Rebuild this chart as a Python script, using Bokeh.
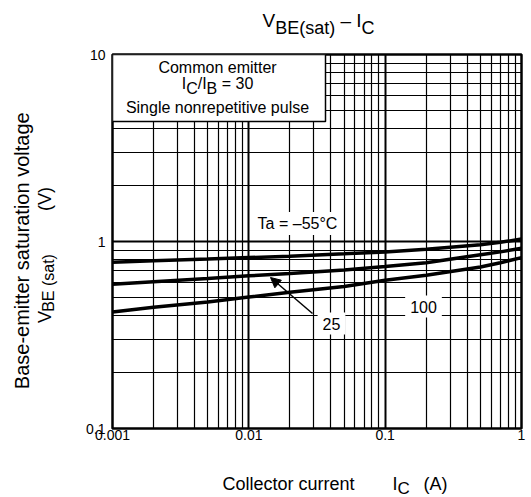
import math
from bokeh.plotting import figure
from bokeh.layouts import column, row
from bokeh.models import (Range1d, FixedTicker, CustomJSTickFormatter, Label,
                          BoxAnnotation, Arrow, NormalHead)
from bokeh.embed import file_html
from bokeh.resources import INLINE

# ---- data ----
ic = [0.001, 0.002, 0.005, 0.01, 0.02, 0.05, 0.1, 0.2, 0.5, 0.7, 1.0]
vbe_m55 = [0.775, 0.79, 0.805, 0.82, 0.835, 0.86, 0.88, 0.91, 0.96, 0.99, 1.03]
vbe_25 = [0.59, 0.61, 0.635, 0.655, 0.675, 0.705, 0.735, 0.77, 0.85, 0.88, 0.92]
vbe_100 = [0.42, 0.445, 0.475, 0.505, 0.535, 0.575, 0.62, 0.66, 0.73, 0.77, 0.82]

x_ticks = [0.001, 0.01, 0.1, 1]
y_ticks = [0.1, 1, 10]
x_minor = [m * 10.0 ** k for k in (-3, -2, -1) for m in range(2, 10)]
y_minor = [m * 10.0 ** k for k in (-1, 0) for m in range(2, 10)]

FONT = "Liberation Sans"
BL = 5  # baseline correction (px)

# page geometry (pixels)
W, H = 531, 497
TOP_H = 44          # title strip height
LEFT_W = 60         # y-label strip width
BOT_H = 49          # x-label strip height
MAIN_H = H - TOP_H - BOT_H
FL, FR, FT, FB = 112, 521, 54, 428   # frame edges in page pixels


def dx(px):
    return 10 ** (-3 + (px - FL) * 3.0 / (FR - FL))


def dy(py):
    return 10 ** (1 - (py - FT) * 2.0 / (FB - FT))


p = figure(width=W - LEFT_W, height=MAIN_H, x_axis_type="log", y_axis_type="log",
           x_range=Range1d(0.001, 1), y_range=Range1d(0.1, 10),
           output_backend="svg", toolbar_location=None,
           min_border_left=FL - LEFT_W, min_border_right=W - FR,
           min_border_top=FT - TOP_H, min_border_bottom=TOP_H + MAIN_H - FB)
p.background_fill_color = "white"
p.border_fill_color = "white"
p.outline_line_color = "black"
p.outline_line_width = 2.5

for ax, t, mn, st in ((p.xaxis[0], x_ticks, x_minor, 1), (p.yaxis[0], y_ticks, y_minor, 7)):
    ax.ticker = FixedTicker(ticks=t, minor_ticks=mn)
    ax.formatter = CustomJSTickFormatter(code="return tick.toString();")
    ax.axis_line_color = None
    ax.major_tick_in = 0
    ax.major_tick_out = 0
    ax.minor_tick_in = 0
    ax.minor_tick_out = 0
    ax.major_label_text_font = FONT
    ax.major_label_text_font_size = "14px"
    ax.major_label_text_color = "black"
    ax.major_label_standoff = st

for g in (p.xgrid[0], p.ygrid[0]):
    g.grid_line_color = "black"
    g.grid_line_width = 2.0
    g.grid_line_alpha = 1.0
    g.minor_grid_line_color = "black"
    g.minor_grid_line_width = 1.2
    g.minor_grid_line_alpha = 1.0

for v in (vbe_m55, vbe_25, vbe_100):
    p.line(ic, v, line_width=3.5, line_color="black")

# condition box
p.add_layout(BoxAnnotation(left=0.001, right=dx(325), top=10, bottom=dy(121),
                           fill_color="white", fill_alpha=1.0,
                           line_color="black", line_width=1.5, line_alpha=1.0))


def aux(w, h):
    f = figure(width=w, height=h, x_range=Range1d(0, w), y_range=Range1d(h, 0),
               output_backend="svg", toolbar_location=None,
               x_axis_location=None, y_axis_location=None, min_border=0)
    f.outline_line_color = None
    f.background_fill_color = "white"
    f.border_fill_color = "white"
    for g in f.grid:
        g.visible = False
    return f


t_fig = aux(W, TOP_H)
l_fig = aux(LEFT_W, MAIN_H)
b_fig = aux(W, BOT_H)

AW = {' ': 278, '(': 333, ')': 333, '-': 333, '/': 278, '=': 584, '°': 400,
      '–': 556, '.': 278, 'A': 667, 'B': 667, 'C': 722, 'E': 667, 'I': 278,
      'S': 667, 'T': 611, 'V': 667, 'a': 556, 'b': 556, 'c': 500, 'e': 556,
      'g': 556, 'i': 222, 'l': 222, 'm': 833, 'n': 556, 'o': 556, 'p': 556,
      'r': 333, 's': 500, 't': 278, 'u': 556, 'v': 500}


def tw(s, size):
    return sum(AW.get(c, 556) for c in s) * size / 1000.0


def lab(fig, x, y, text, size, angle=0.0, align="left", bg=None, pad=0):
    kw = {}
    if bg is not None:
        kw = dict(background_fill_color=bg, background_fill_alpha=1.0, padding=pad)
    fig.add_layout(Label(x=x, y=y, text=text, text_font=FONT,
                         text_font_size=f"{size}px", text_color="black",
                         angle=angle, text_align=align, text_baseline="alphabetic", **kw))


# coordinate transforms (page pixels -> figure data)
MAIN = (p, dx, lambda py: dy(py - BL))
TOP = (t_fig, lambda px: px, lambda py: py - BL)
BOT = (b_fig, lambda px: px, lambda py: py - (TOP_H + MAIN_H) - BL)
LEFT = (l_fig, lambda px: px - BL, lambda py: py - TOP_H)


def put(target, px, py, text, size, **kw):
    fig, fx, fy = target
    lab(fig, fx(px), fy(py), text, size, **kw)


def compose(target, pieces, px, py):
    for text, size, off in pieces:
        stripped = text.lstrip(" ")
        px += tw(text[:len(text) - len(stripped)], size)
        put(target, px, py + off, stripped, size)
        px += tw(stripped, size)


def compose_rot(target, pieces, bx, py):
    for text, size, off in pieces:
        stripped = text.lstrip(" ")
        py -= tw(text[:len(text) - len(stripped)], size)
        put(target, bx + off, py, stripped, size, angle=math.pi / 2)
        py -= tw(stripped, size)


# title  V_BE(sat) – I_C
title_pieces = [("V", 19, 0), ("BE(sat)", 18, 7), (" – I", 19, 0), ("C", 18, 7)]
tw_title = sum(tw(t, s) for t, s, _ in title_pieces)
compose(TOP, title_pieces, 318 - tw_title / 2, 25)

# box texts
put(MAIN, 217, 72, "Common emitter", 16, align="center")
ib_pieces = [("I", 16, 0), ("C", 16, 4.5), ("/I", 16, 0), ("B", 16, 4.5), (" = 30", 16, 0)]
tw_ib = sum(tw(t, s) for t, s, _ in ib_pieces)
compose(MAIN, ib_pieces, 217 - tw_ib / 2, 88)
put(MAIN, 217, 112, "Single nonrepetitive pulse", 16, align="center")

# curve labels
put(MAIN, 297, 228, "Ta = –55°C", 16, align="center", bg="white", pad=3)
put(MAIN, 423, 311, "100", 16, align="center", bg="white", pad=5)
put(MAIN, 331, 328, "25", 16, align="center", bg="white", pad=5)
p.add_layout(Arrow(x_start=dx(312), y_start=dy(313), x_end=dx(270), y_end=dy(277),
                   line_width=1.5, line_color="black",
                   end=NormalHead(size=10, fill_color="black", line_color="black")))

# x axis label
compose(BOT, [("Collector current", 18, 0)], 222, 488)
compose(BOT, [("I", 18, 0), ("C", 17, 5)], 392, 488)
compose(BOT, [("(A)", 18, 0)], 423, 488)

# y axis label (rotated)
put(LEFT, 26, 256, "Base-emitter saturation voltage", 20, angle=math.pi / 2, align="center")
compose_rot(LEFT, [("V", 18, 0), ("BE (sat)", 16, 4)], 49, 334)
put(LEFT, 49, 200, "(V)", 18, angle=math.pi / 2, align="center")

layout = column(t_fig, row(l_fig, p, spacing=0), b_fig, spacing=0)
open("out.html", "w").write(file_html(layout, INLINE))
